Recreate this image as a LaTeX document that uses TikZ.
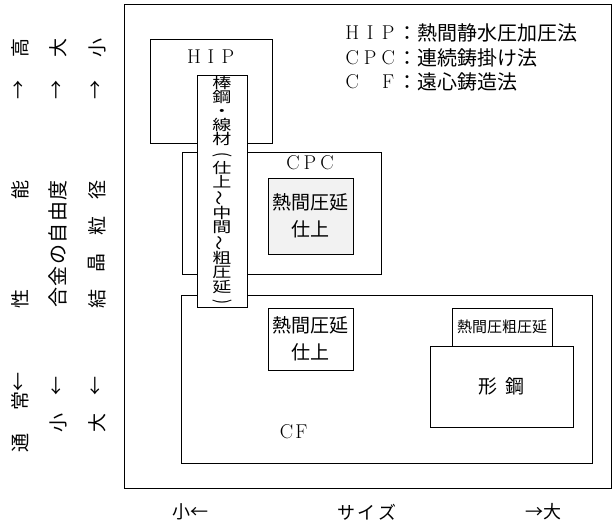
\documentclass[tikz,border=0pt]{standalone}
\usepackage{fontspec}
\usepackage{graphicx}
\newfontfamily\cjk{Noto Sans CJK JP}
\newcommand{\fsz}[1]{\fontsize{#1}{#1}\selectfont}
\newcommand{\wl}[1]{\makebox[18pt]{#1}}
\newcommand{\sq}[1]{\scalebox{1.12}[0.86]{#1}}
\newcommand{\vrot}[2]{\rotatebox[origin=c]{#1}{#2}}
\begin{document}
\begin{tikzpicture}[x=1pt,y=-1pt,
  box/.style={draw, line width=0.8pt, inner sep=0pt},
  jp/.style={inner sep=0pt, font=\cjk\fsz{20}},
  jps/.style={inner sep=0pt, font=\cjk\fsz{18}},
  lat/.style={inner sep=0pt, font=\fsz{20}},
  side/.style={inner sep=0pt, font=\cjk\fsz{19}, rotate=90}]
\useasboundingbox (0,0) rectangle (613,532);
% frame
\node[box, line width=1pt, minimum width=487pt, minimum height=483pt] (frame) at (367.5,246.5) {};
% HIP
\node[box, minimum width=122pt, minimum height=104pt] (hip) at (211,91) {};
\node[lat] (hiplbl) at (211,57) {\makebox[17pt]{H}\makebox[17pt]{I}\makebox[17pt]{P}};
% CPC
\node[box, minimum width=199pt, minimum height=122pt] (cpc) at (281.5,213) {};
\node[lat] (cpclbl) at (310,163) {\makebox[17pt]{C}\makebox[17pt]{P}\makebox[17pt]{C}};
\node[box, fill=gray!10, minimum width=85pt, minimum height=76pt, align=center,
      font=\cjk\fontsize{19}{27}\selectfont] (cpcin) at (310.5,216) {熱間圧延\\仕上};
% CF
\node[box, minimum width=411pt, minimum height=168pt] (cf) at (386.5,379) {};
\node[lat] (cflbl) at (294,432) {\makebox[15pt]{C}\makebox[15pt]{F}};
\node[box, fill=white, minimum width=85pt, minimum height=62pt, align=center,
      font=\cjk\fontsize{19}{27}\selectfont] (cfin) at (310.5,339) {熱間圧延\\仕上};
\node[box, fill=white, minimum width=100pt, minimum height=38pt, font=\cjk\fsz{15}] (rough) at (502,327) {熱間圧粗圧延};
\node[box, fill=white, minimum width=143pt, minimum height=81pt, font=\cjk\fsz{19}] (shape) at (501.5,386.5) {形\hspace{8pt}鋼};
% vertical box
\node[box, fill=white, minimum width=50pt, minimum height=232pt, align=center,
      font=\cjk\fontsize{17}{14.2}\selectfont] (vert) at (222,191)
  {\sq{棒}\\\sq{鋼}\\\sq{・}\\\sq{線}\\\sq{材}\\\sq{\vrot{-90}{(}}\\\sq{仕}\\\sq{上}\\\sq{\vrot{90}{～}}\\\sq{中}\\\sq{間}\\\sq{\vrot{90}{～}}\\\sq{粗}\\\sq{圧}\\\sq{延}\\\sq{\vrot{-90}{)}}};
% legend
\node[lat, anchor=west] (lg1a) at (343,33) {\wl{H}\wl{I}\wl{P}};
\node[jp, anchor=west] (lg1b) at (397,33) {：熱間静水圧加圧法};
\node[lat, anchor=west] (lg2a) at (343,58) {\wl{C}\wl{P}\wl{C}};
\node[jp, anchor=west] (lg2b) at (397,58) {：連続鋳掛け法};
\node[lat, anchor=west] (lg3a) at (343,82) {\wl{C}\wl{}\wl{F}};
\node[jp, anchor=west] (lg3b) at (397,82) {：遠心鋳造法};
% left column 1
\node[side] (a1) at (20,443) {通};
\node[side] (a2) at (20,401) {常};
\node[side] (a3) at (20,382) {←};
\node[side] (a4) at (20,299) {性};
\node[side] (a5) at (20,190) {能};
\node[side] (a6) at (20,90) {→};
\node[side] (a7) at (20,48) {高};
% left column 2
\node[side] (b1) at (58,423) {小};
\node[side] (b2) at (58,386) {←};
\node[side, font=\cjk\fsz{20}] (b3) at (58,244) {合\hspace{1.5pt}金\hspace{1.5pt}の\hspace{1.5pt}自\hspace{1.5pt}由\hspace{1.5pt}度};
\node[side] (b4) at (58,90) {→};
\node[side] (b5) at (58,48) {大};
% left column 3
\node[side] (c1) at (97,423) {大};
\node[side] (c2) at (97,386) {←};
\node[side] (c3) at (97,299) {結};
\node[side] (c4) at (97,263) {晶};
\node[side] (c5) at (97,226) {粒};
\node[side] (c6) at (97,190) {径};
\node[side] (c7) at (97,90) {→};
\node[side] (c8) at (97,48) {小};
% bottom
\node[jps] (d1) at (190,512) {小←};
\node[jps] (d2) at (367,512) {サ\hspace{3pt}イ\hspace{3pt}ズ};
\node[jps] (d3) at (543,512) {→大};
\end{tikzpicture}
\end{document}
